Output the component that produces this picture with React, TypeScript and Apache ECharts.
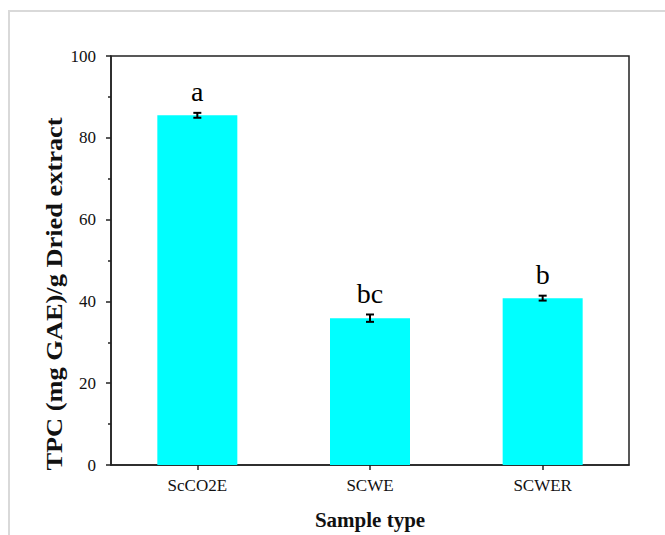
import React, { useEffect, useRef } from "react";
import * as echarts from "echarts";

const categories = ["ScCO2E", "SCWE", "SCWER"];
const values = [85.5, 35.9, 40.8];
const errors = [0.6, 0.9, 0.6];
const letters = ["a", "bc", "b"];
const yTicks = { min: 0, max: 100, interval: 20 };

const FONT = "Liberation Serif";

export default function App() {
  const ref = useRef<HTMLDivElement>(null);
  useEffect(() => {
    if (!ref.current) return;
    const chart = echarts.init(ref.current, undefined, { renderer: "svg" });
    const option = {
      animation: false,
      backgroundColor: "#ffffff",
      grid: {
        show: true,
        borderColor: "#222",
        borderWidth: 1.5,
        left: 111,
        right: 36,
        top: 56,
        bottom: 63.5,
      },
      graphic: [
        {
          type: "rect",
          shape: { x: 9, y: 11, width: 720, height: 620 },
          style: { fill: "none", stroke: "#d9d9d9", lineWidth: 2 },
          silent: true,
        },
        {
          type: "text",
          x: 54,
          y: 294,
          rotation: Math.PI / 2,
          scaleX: 1.1,
          style: {
            text: "TPC (mg GAE)/g Dried extract",
            fontFamily: FONT,
            fontWeight: "bold",
            fontSize: 24,
            fill: "#111",
            textAlign: "center",
            textVerticalAlign: "middle",
          },
        },
      ],
      xAxis: {
        type: "category",
        data: categories,
        name: "Sample type",
        nameLocation: "middle",
        nameGap: 44,
        nameTextStyle: { fontFamily: FONT, fontWeight: "bold", fontSize: 21, color: "#111" },
        axisLine: { lineStyle: { color: "#222", width: 1.5 } },
        axisTick: { show: true, alignWithLabel: true, length: 5, lineStyle: { color: "#222", width: 1.5 } },
        axisLabel: { fontFamily: FONT, fontSize: 17, color: "#111", margin: 12 },
        splitLine: { show: false },
      },
      yAxis: {
        type: "value",
        min: yTicks.min,
        max: yTicks.max,
        interval: yTicks.interval,
        axisLine: { show: true, lineStyle: { color: "#222", width: 1.5 } },
        axisTick: { show: true, length: 5, lineStyle: { color: "#222", width: 1.5 } },
        minorTick: { show: true, splitNumber: 2, length: 3, lineStyle: { color: "#222", width: 1.5 } },
        axisLabel: { fontFamily: FONT, fontSize: 17, color: "#111", margin: 15 },
        splitLine: { show: false },
      },
      series: [
        {
          type: "bar",
          data: values,
          barWidth: 80,
          itemStyle: { color: "#00FFFF" },
          z: 2,
        },
        {
          type: "custom",
          z: 5,
          data: categories.map((c, i) => [i, values[i], errors[i]]),
          renderItem: (params: any, api: any) => {
            const i = api.value(0);
            const v = api.value(1);
            const e = api.value(2);
            const top = api.coord([i, v + e]);
            const bot = api.coord([i, v - e]);
            const x = top[0];
            const st = { stroke: "#000", lineWidth: 2 };
            return {
              type: "group",
              children: [
                { type: "line", shape: { x1: x, y1: top[1], x2: x, y2: bot[1] }, style: st },
                { type: "line", shape: { x1: x - 4, y1: top[1], x2: x + 4, y2: top[1] }, style: st },
                { type: "line", shape: { x1: x - 4, y1: bot[1], x2: x + 4, y2: bot[1] }, style: st },
                {
                  type: "text",
                  x: x,
                  y: top[1] - 7,
                  style: {
                    text: letters[params.dataIndex],
                    fontFamily: FONT,
                    fontSize: 28,
                    fill: "#000",
                    textAlign: "center",
                    textVerticalAlign: "bottom",
                  },
                },
              ],
            };
          },
        },
      ],
    };
    chart.setOption(option as any);
    return () => chart.dispose();
  }, []);
  return (
    <div
      ref={ref}
      style={{ position: "absolute", left: 0, top: 0, width: 665, height: 535 }}
    />
  );
}
